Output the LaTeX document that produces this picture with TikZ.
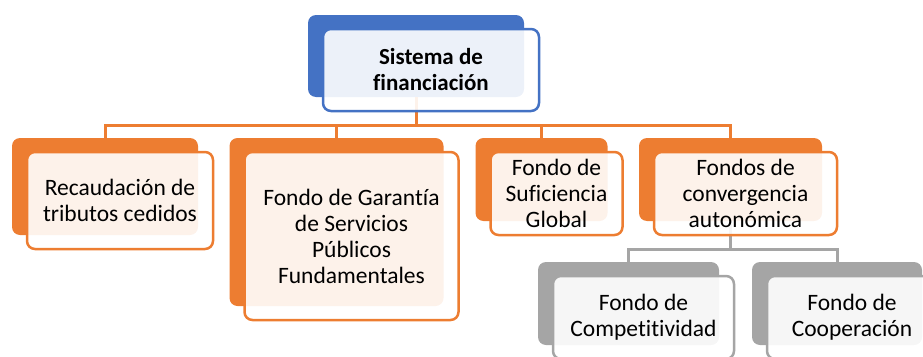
\documentclass[tikz,border=0pt]{standalone}
\usepackage{fontspec}
\setmainfont{Carlito}[Ligatures=NoCommon]
\definecolor{cBlue}{HTML}{4472C4}
\definecolor{cOrange}{HTML}{ED7D31}
\definecolor{cGray}{HTML}{A5A5A5}
\tikzset{
  backbox/.style={rounded corners=8pt, inner sep=0pt, draw=none},
  frontbox/.style={rounded corners=8pt, line width=2.5pt, fill=white, fill opacity=0.9,
    text opacity=1, align=center, inner sep=0pt, text=black,
    font=\fontsize{23.5}{26}\selectfont},
  conO/.style={draw=cOrange, line width=3pt},
  conG/.style={draw=cGray, line width=3pt},
}
\begin{document}
\begin{tikzpicture}[x=1pt,y=-1pt]
\clip (0,0) rectangle (923,356);
% back rectangles
\node[backbox, fill=cBlue, minimum width=216pt, minimum height=82pt] (b0) at (416,56) {};
\node[backbox, fill=cOrange, minimum width=186pt, minimum height=97pt] (b1) at (105,186.5) {};
\node[backbox, fill=cOrange, minimum width=214pt, minimum height=168pt] (b2) at (336.5,222) {};
\node[backbox, fill=cOrange, minimum width=132pt, minimum height=83pt] (b3) at (541.5,179.5) {};
\node[backbox, fill=cOrange, minimum width=183pt, minimum height=83pt] (b4) at (730.5,179.5) {};
\node[backbox, fill=cGray, minimum width=181pt, minimum height=83pt] (b5) at (628.5,303.5) {};
\node[backbox, fill=cGray, minimum width=170pt, minimum height=83pt] (b6) at (837,303.5) {};
% connectors
\coordinate (j0) at (416,125);
\coordinate (j4) at (730.5,249);
\draw[conO] (b0.south) -- (j0);
\draw[conO] (b1.north) |- (j0) -| (b4.north);
\draw[conO] (b2.north) -- (b2.north |- j0);
\draw[conO] (b3.north) -- (b3.north |- j0);
\draw[conG] (b4.south) -- (j4);
\draw[conG] (b5.north) |- (j4) -| (b6.north);
% front boxes
\node[frontbox, draw=cBlue, minimum width=216pt, minimum height=82pt,
  font=\fontsize{23}{26}\selectfont\bfseries] (f0) at (431,70) {Sistema de\\financiación};
\node[frontbox, draw=cOrange, minimum width=186pt, minimum height=97pt] (f1) at (120,200.5) {Recaudación de\\tributos cedidos};
\node[frontbox, draw=cOrange, minimum width=214pt, minimum height=168pt] (f2) at (351.5,236) {Fondo de Garantía\\de Servicios\\Públicos\\Fundamentales};
\node[frontbox, draw=cOrange, minimum width=132pt, minimum height=83pt] (f3) at (556.5,193.5) {Fondo de\\Suficiencia\\Global};
\node[frontbox, draw=cOrange, minimum width=183pt, minimum height=83pt] (f4) at (745.5,193.5) {Fondos de\\convergencia\\autonómica};
\node[frontbox, draw=cGray, minimum width=181pt, minimum height=83pt] (f5) at (643.5,317.5) {Fondo de\\Competitividad};
\node[frontbox, draw=cGray, minimum width=170pt, minimum height=83pt] (f6) at (852,317.5) {Fondo de\\Cooperación};
\end{tikzpicture}
\end{document}
